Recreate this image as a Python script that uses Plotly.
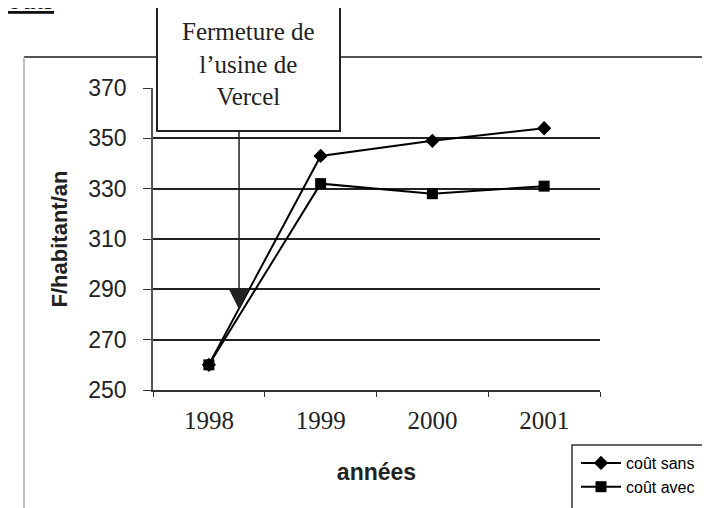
import plotly.graph_objects as go

years = ["1998", "1999", "2000", "2001"]
cout_sans = [260, 343, 349, 354]
cout_avec = [260, 332, 328, 331]
y_ticks = [250, 270, 290, 310, 330, 350, 370]
grid_ticks = [270, 290, 310, 330, 350]

W, H = 710, 508
OFF = 8  # page body margin
# plot area in page pixels: x 153..600, y 88..390
L, T, PW, PH = 153 - OFF, 88 - OFF, 447, 302
R = W - L - PW
B = H - T - PH


def px(x):
    return (x - OFF - L) / PW


def py(y):
    return (T + PH - (y - OFF)) / PH


SERIF = "Liberation Serif, Times New Roman, serif"
SANS = "Liberation Sans, Arial, sans-serif"

fig = go.Figure()
fig.add_trace(go.Scatter(
    x=years, y=cout_sans, name="coût sans", mode="lines+markers",
    line=dict(color="black", width=2),
    marker=dict(symbol="diamond", size=11, color="black"),
))
fig.add_trace(go.Scatter(
    x=years, y=cout_avec, name="coût avec", mode="lines+markers",
    line=dict(color="black", width=2),
    marker=dict(symbol="square", size=11, color="black"),
))

fig.update_layout(
    width=W, height=H,
    margin=dict(l=L, r=R, t=T, b=B, autoexpand=False),
    paper_bgcolor="white", plot_bgcolor="white",
    showlegend=True,
    legend=dict(
        x=px(576), y=py(446), xanchor="left", yanchor="top",
        font=dict(family="Liberation Sans Narrow, Arial Narrow, Liberation Sans, Arial", size=16, color="black"),
        bgcolor="rgba(0,0,0,0)", borderwidth=0, itemwidth=40,
        tracegroupgap=0,
    ),
    xaxis=dict(
        type="category", range=[-0.5, 3.5],
        showline=True, linecolor="#333", linewidth=1.5,
        ticks="outside", tickson="boundaries", ticklen=5, tickcolor="#333",
        showgrid=False, ticklabelstandoff=7,
        tickfont=dict(family=SERIF, size=25, color="#222"),
        title=dict(text="<b>années</b>", font=dict(family=SANS, size=23, color="#222"), standoff=31),
        fixedrange=True,
    ),
    yaxis=dict(
        range=[250, 370], tickvals=y_ticks,
        showline=True, linecolor="#555", linewidth=1.5,
        ticks="outside", ticklen=8, tickcolor="#333",
        showgrid=False, zeroline=False, ticklabelstandoff=12,
        tickfont=dict(family=SANS, size=23, color="#222"),
        title=dict(text="<b>F/habitant/an</b>", font=dict(family=SANS, size=22, color="#222"), standoff=15),
    ),
    yaxis2=dict(
        overlaying="y", range=[250, 370], tickvals=grid_ticks,
        showticklabels=False, ticks="", showgrid=True,
        gridcolor="#222", gridwidth=1.5, zeroline=False, showline=False,
    ),
)
# empty trace that activates the grid axis
fig.add_trace(go.Scatter(x=[years[0]], y=[None], yaxis="y2", showlegend=False, hoverinfo="skip"))

shapes = [
    # outer chart frame (top and left)
    dict(type="line", xref="paper", yref="paper", x0=px(24), x1=px(730), y0=py(57), y1=py(57),
         line=dict(color="#555", width=2), layer="below"),
    dict(type="line", xref="paper", yref="paper", x0=px(24), x1=px(24), y0=py(57), y1=py(530),
         line=dict(color="#aaa", width=1.5), layer="below"),
    # annotation box (top edge beyond the page)
    dict(type="rect", xref="paper", yref="paper", x0=px(157), x1=px(340), y0=py(131), y1=py(-20),
         line=dict(color="#222", width=2), fillcolor="white", layer="above"),
    # legend frame
    dict(type="rect", xref="paper", yref="paper", x0=px(572), x1=px(740), y0=py(530), y1=py(445),
         line=dict(color="#333", width=1.5), fillcolor="rgba(0,0,0,0)", layer="above"),
]
fig.update_layout(shapes=shapes)

fig.add_annotation(
    xref="paper", yref="paper", x=px(248), y=py(64), xanchor="center", yanchor="middle",
    text="Fermeture de<br>l’usine de<br>Vercel", showarrow=False, align="center",
    font=dict(family=SERIF, size=25, color="#222"),
)
fig.add_annotation(
    x=0.27, y=282, xref="x", yref="y", ax=0.27, ay=353.5, axref="x", ayref="y",
    text="", showarrow=True, arrowhead=2, arrowsize=2.8, arrowwidth=1.5, arrowcolor="#222",
)
fig.add_annotation(
    xref="paper", yref="paper", x=px(56), y=py(17), xanchor="right", yanchor="bottom",
    text="<u>coûts</u>", showarrow=False,
    font=dict(family=SERIF, size=28, color="#111"),
)

fig.write_html("out.html")
